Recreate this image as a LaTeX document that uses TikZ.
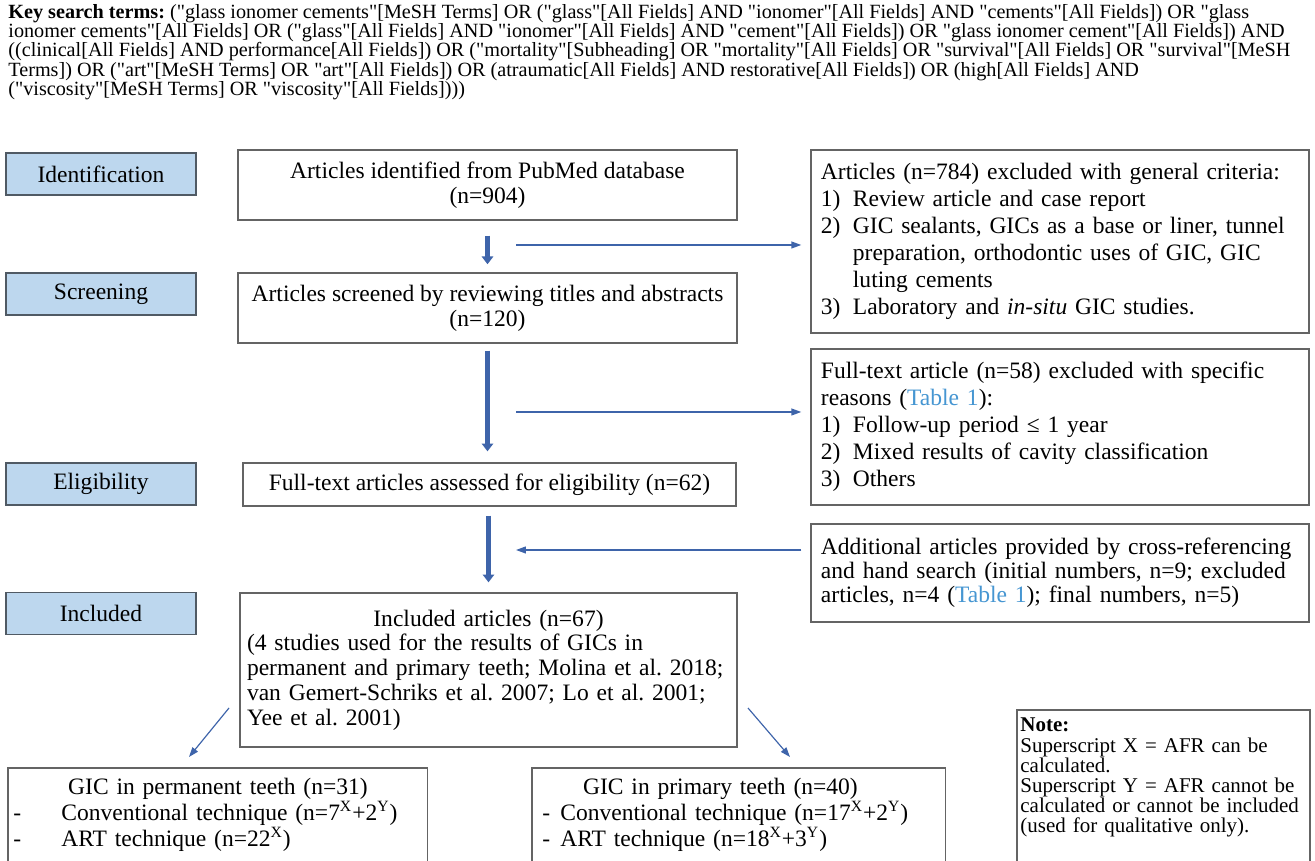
\documentclass[tikz,border=0pt]{standalone}
\usepackage{fontspec}
\setmainfont{Liberation Serif}[Ligatures=TeXOff]
\usetikzlibrary{arrows.meta,calc}
\frenchspacing

\definecolor{stagefill}{RGB}{189,215,238}
\definecolor{stageline}{RGB}{80,90,100}
\definecolor{boxline}{RGB}{100,100,100}
\definecolor{flowblue}{RGB}{62,100,170}
\definecolor{tableblue}{RGB}{70,150,210}

\tikzset{
  stagebox/.style={draw=stageline, fill=stagefill, line width=0.8pt, minimum width=96.9pt,
    minimum height=21.4pt, inner sep=0pt, font=\fontsize{12}{13.8}\selectfont},
  flowbox/.style={draw=boxline, line width=0.7pt, inner sep=0pt, font=\fontsize{12}{13.8}\selectfont},
  listbox/.style={flowbox, align=left, text width=#1},
  openbox/.style={inner ysep=5pt, align=left, font=\fontsize{12}{11.2}\selectfont},
  boxedge/.style={draw=boxline, line width=0.7pt},
  bigarrow/.style={draw=flowblue, line width=2.4pt, -{Triangle[length=4pt,width=5.8pt]}},
  thinarrow/.style={draw=flowblue, line width=0.6pt, -{Triangle[length=5pt,width=3.5pt]}},
}
\newcommand{\numitem}[1]{\makebox[16.3pt][l]{#1}}
\newcommand{\tbl}{\textcolor{tableblue}{Table 1}}

\begin{document}
\begin{tikzpicture}[x=0.51pt,y=-0.51pt]
  \useasboundingbox (0,0) rectangle (1315,861);
  \fill[white] (0,0) rectangle (1315,861);
  \clip (0,0) rectangle (1315,861);

  % search string
  \node[anchor=north west, inner sep=0pt, align=left, font=\fontsize{10.3}{9.8}\selectfont] (keyterms) at (8,4)
    {\textbf{Key search terms:} ("glass ionomer cements"[MeSH Terms] OR ("glass"[All Fields] AND "ionomer"[All Fields] AND "cements"[All Fields]) OR "glass\\
    ionomer cements"[All Fields] OR ("glass"[All Fields] AND "ionomer"[All Fields] AND "cement"[All Fields]) OR "glass ionomer cement"[All Fields]) AND\\
    ((clinical[All Fields] AND performance[All Fields]) OR ("mortality"[Subheading] OR "mortality"[All Fields] OR "survival"[All Fields] OR "survival"[MeSH\\
    Terms]) OR ("art"[MeSH Terms] OR "art"[All Fields]) OR (atraumatic[All Fields] AND restorative[All Fields]) OR (high[All Fields] AND\\
    ("viscosity"[MeSH Terms] OR "viscosity"[All Fields])))};

  % stages
  \node[stagebox] (ident)  at (101,174)   {Identification};
  \node[stagebox] (screen) at (101,294)   {Screening};
  \node[stagebox] (elig)   at (101,484)   {Eligibility};
  \node[stagebox] (incl)   at (101,613.5) {Included};

  % main flow
  \node[flowbox, align=center, minimum width=254.5pt, minimum height=35.7pt,
        font=\fontsize{12}{12.8}\selectfont] (found) at (487.5,185)
    {Articles identified from PubMed database\\(n=904)};
  \node[flowbox, align=center, minimum width=254.5pt, minimum height=35.7pt,
        font=\fontsize{12}{12.8}\selectfont] (screened) at (487.5,308)
    {Articles screened by reviewing titles and abstracts\\(n=120)};
  \node[flowbox, minimum width=251.4pt, minimum height=21.9pt] (assessed) at (489.5,484.5)
    {Full-text articles assessed for eligibility (n=62)};
  \node[listbox=246.3pt, minimum width=253.5pt, minimum height=78.5pt,
        font=\fontsize{12}{12.6}\selectfont] (included) at (488.5,670)
    {\makebox[\linewidth]{Included articles (n=67)}\\
     (4 studies used for the results of GICs in\\
     permanent and primary teeth; Molina et al. 2018;\\
     van Gemert-Schriks et al. 2007; Lo et al. 2001;\\
     Yee et al. 2001)};

  % side boxes
  \node[listbox=243.8pt, minimum width=254pt, minimum height=93.3pt] (exclgen) at (1060,241.5)
    {Articles (n=784) excluded with general criteria:\\
     \numitem{1)}Review article and case report\\
     \numitem{2)}GIC sealants, GICs as a base or liner, tunnel\\
     \numitem{}preparation, orthodontic uses of GIC, GIC\\
     \numitem{}luting cements\\
     \numitem{3)}Laboratory and \textit{in-situ} GIC studies.};
  \node[listbox=243.8pt, minimum width=254pt, minimum height=79.6pt] (exclspec) at (1060,427)
    {Full-text article (n=58) excluded with specific\\
     reasons (\tbl):\\
     \numitem{1)}Follow-up period ≤ 1 year\\
     \numitem{2)}Mixed results of cavity classification\\
     \numitem{3)}Others};
  \node[listbox=243.8pt, minimum width=254pt, minimum height=50pt,
        font=\fontsize{12}{12.2}\selectfont] (extra) at (1060,573)
    {Additional articles provided by cross-referencing\\
     and hand search (initial numbers, n=9; excluded\\
     articles, n=4 (\tbl); final numbers, n=5)};

  % results per dentition
  \node[openbox, anchor=north west, inner xsep=2.55pt, text width=208.6pt] (perm) at (8,768)
    {\makebox[\linewidth]{GIC in permanent teeth (n=31)}\\
     \makebox[24.5pt][l]{-}Conventional technique (n=7\textsuperscript{X}+2\textsuperscript{Y})\\
     \makebox[24.5pt][l]{-}ART technique (n=22\textsuperscript{X})};
  \draw[boxedge] (perm.north west) rectangle ($(perm.north east)+(0,160)$);
  \node[openbox, anchor=north west, inner xsep=5.1pt, text width=200.4pt] (prim) at (532,768)
    {\makebox[181.6pt]{GIC in primary teeth (n=40)}\\
     \makebox[9.2pt][l]{-}Conventional technique (n=17\textsuperscript{X}+2\textsuperscript{Y})\\
     \makebox[9.2pt][l]{-}ART technique (n=18\textsuperscript{X}+3\textsuperscript{Y})};
  \draw[boxedge] (prim.north west) rectangle ($(prim.north east)+(0,160)$);
  \node[openbox, anchor=north west, inner xsep=1.53pt, inner ysep=4pt, text width=145.9pt,
        font=\fontsize{10.7}{10.3}\selectfont] (note) at (1017,710)
    {\textbf{Note:}\\
     Superscript X = AFR can be\\
     calculated.\\
     Superscript Y = AFR cannot be\\
     calculated or cannot be included\\
     (used for qualitative only).};
  \draw[boxedge] (note.north west) rectangle ($(note.north east)+(0,220)$);

  % connectors
  \draw[bigarrow, shorten <=7.6pt, shorten >=4.1pt] (found) -- (screened);
  \draw[bigarrow, shorten <=3.6pt, shorten >=5.6pt] (screened.south) -- (screened.south |- assessed.north);
  \draw[bigarrow, shorten <=4.6pt, shorten >=5.1pt] (included.north |- assessed.south) -- (included.north);

  \coordinate (out1) at (516,245);
  \coordinate (out2) at (516,412);
  \coordinate (back) at (516,550);
  \draw[thinarrow, shorten >=4.6pt] (out1) -- (out1 -| exclgen.west);
  \draw[thinarrow, shorten >=4.6pt] (out2) -- (out2 -| exclspec.west);
  \draw[thinarrow, shorten <=4.6pt] (back -| extra.west) -- (back);

  \coordinate (split1) at (229,708);
  \coordinate (toperm) at (189,757);
  \coordinate (split2) at (748,708);
  \coordinate (toprim) at (790,757);
  \draw[thinarrow] (split1) -- (toperm);
  \draw[thinarrow] (split2) -- (toprim);
\end{tikzpicture}
\end{document}
